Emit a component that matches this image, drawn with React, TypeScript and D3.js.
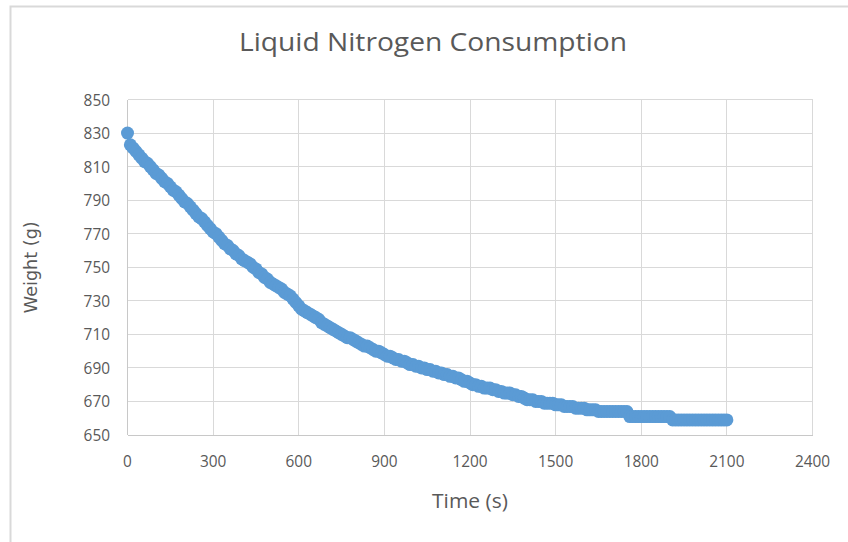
import React, { useEffect, useRef } from 'react';
import * as d3 from 'd3';

// readings, one every 10 s
const timeSec = [
  0, 10, 20, 30, 40, 50, 60, 70, 80, 90,
  100, 110, 120, 130, 140, 150, 160, 170, 180, 190,
  200, 210, 220, 230, 240, 250, 260, 270, 280, 290,
  300, 310, 320, 330, 340, 350, 360, 370, 380, 390,
  400, 410, 420, 430, 440, 450, 460, 470, 480, 490,
  500, 510, 520, 530, 540, 550, 560, 570, 580, 590,
  600, 610, 620, 630, 640, 650, 660, 670, 680, 690,
  700, 710, 720, 730, 740, 750, 760, 770, 780, 790,
  800, 810, 820, 830, 840, 850, 860, 870, 880, 890,
  900, 910, 920, 930, 940, 950, 960, 970, 980, 990,
  1000, 1010, 1020, 1030, 1040, 1050, 1060, 1070, 1080, 1090,
  1100, 1110, 1120, 1130, 1140, 1150, 1160, 1170, 1180, 1190,
  1200, 1210, 1220, 1230, 1240, 1250, 1260, 1270, 1280, 1290,
  1300, 1310, 1320, 1330, 1340, 1350, 1360, 1370, 1380, 1390,
  1400, 1410, 1420, 1430, 1440, 1450, 1460, 1470, 1480, 1490,
  1500, 1510, 1520, 1530, 1540, 1550, 1560, 1570, 1580, 1590,
  1600, 1610, 1620, 1630, 1640, 1650, 1660, 1670, 1680, 1690,
  1700, 1710, 1720, 1730, 1740, 1750, 1760, 1770, 1780, 1790,
  1800, 1810, 1820, 1830, 1840, 1850, 1860, 1870, 1880, 1890,
  1900, 1910, 1920, 1930, 1940, 1950, 1960, 1970, 1980, 1990,
  2000, 2010, 2020, 2030, 2040, 2050, 2060, 2070, 2080, 2090,
  2100
];

const weightG = [
  830, 823, 821, 819, 817, 815, 813, 812, 810, 808,
  806, 805, 803, 801, 800, 798, 796, 795, 793, 791,
  789, 788, 786, 784, 782, 780, 779, 777, 775, 773,
  771, 770, 768, 766, 764, 763, 761, 760, 758, 757,
  755, 754, 753, 752, 750, 749, 747, 746, 744, 743,
  741, 740, 739, 738, 737, 735, 734, 733, 731, 729,
  727, 725, 724, 723, 722, 721, 720, 719, 717, 716,
  715, 714, 713, 712, 711, 710, 709, 708, 708, 707,
  706, 705, 704, 703, 703, 702, 701, 700, 700, 699,
  698, 697, 697, 696, 695, 695, 694, 694, 693, 692,
  692, 691, 691, 690, 690, 689, 689, 688, 688, 687,
  687, 686, 686, 685, 685, 684, 684, 683, 682, 682,
  681, 680, 680, 679, 679, 678, 678, 678, 677, 677,
  676, 676, 675, 675, 675, 674, 674, 673, 673, 672,
  671, 671, 671, 670, 670, 670, 669, 669, 669, 669,
  668, 668, 668, 667, 667, 667, 667, 666, 666, 666,
  666, 665, 665, 665, 665, 664, 664, 664, 664, 664,
  664, 664, 664, 664, 664, 664, 661, 661, 661, 661,
  661, 661, 661, 661, 661, 661, 661, 661, 661, 661,
  661, 659, 659, 659, 659, 659, 659, 659, 659, 659,
  659, 659, 659, 659, 659, 659, 659, 659, 659, 659,
  659
];

const xTicks = [0, 300, 600, 900, 1200, 1500, 1800, 2100, 2400];
const yTicks = [650, 670, 690, 710, 730, 750, 770, 790, 810, 830, 850];

const chartTitle = 'Liquid Nitrogen Consumption';
const xTitle = 'Time (s)';
const yTitle = 'Weight (g)';

const width = 848;
const height = 542;

export default function App() {
  const ref = useRef<SVGSVGElement>(null);

  useEffect(() => {
    const svg = d3.select(ref.current);
    svg.selectAll('*').remove();

    const left = 127.5, right = 812.5, top = 99.5, bottom = 435;
    const textColor = '#595959';
    const gridColor = '#d9d9d9';
    const font = "'Open Sans', sans-serif";

    const x = d3.scaleLinear().domain([0, 2400]).range([left, right]);
    const y = d3.scaleLinear().domain([650, 850]).range([bottom, top]);

    svg.append('rect')
      .attr('width', width).attr('height', height).attr('fill', '#fff');

    // chart area frame (runs off the right/bottom of the picture)
    svg.append('rect')
      .attr('x', 10.5).attr('y', 6.5)
      .attr('width', 860).attr('height', 600)
      .attr('fill', '#fff')
      .attr('stroke', gridColor).attr('stroke-width', 2);

    // gridlines
    const grid = svg.append('g').attr('shape-rendering', 'crispEdges');
    grid.selectAll('line.h').data(yTicks).enter().append('line')
      .attr('x1', left).attr('x2', right)
      .attr('y1', d => y(d)).attr('y2', d => y(d))
      .attr('stroke', gridColor).attr('stroke-width', 1);
    grid.selectAll('line.v').data(xTicks).enter().append('line')
      .attr('y1', top).attr('y2', bottom)
      .attr('x1', d => x(d)).attr('x2', d => x(d))
      .attr('stroke', gridColor).attr('stroke-width', 1);
    // axis lines a touch darker
    grid.append('line')
      .attr('x1', left).attr('x2', right).attr('y1', bottom).attr('y2', bottom)
      .attr('stroke', '#c8c8c8');
    grid.append('line')
      .attr('x1', left).attr('x2', left).attr('y1', top).attr('y2', bottom)
      .attr('stroke', '#c8c8c8');

    // tick labels (narrow, calibri-ish)
    svg.append('g').selectAll('text').data(yTicks).enter().append('text')
      .attr('x', 110).attr('y', d => y(d) + 6)
      .attr('text-anchor', 'end')
      .attr('font-family', font).attr('font-size', 17)
      .attr('fill', textColor)
      .attr('textLength', d => String(d).length * 8.8)
      .attr('lengthAdjust', 'spacingAndGlyphs')
      .text(d => d);
    svg.append('g').selectAll('text').data(xTicks).enter().append('text')
      .attr('x', d => x(d)).attr('y', 467)
      .attr('text-anchor', 'middle')
      .attr('font-family', font).attr('font-size', 17)
      .attr('fill', textColor)
      .attr('textLength', d => String(d).length * 8.8)
      .attr('lengthAdjust', 'spacingAndGlyphs')
      .text(d => d);

    // titles
    svg.append('text')
      .attr('x', 433).attr('y', 51)
      .attr('text-anchor', 'middle')
      .attr('font-family', font).attr('font-size', 25)
      .attr('fill', textColor)
      .attr('textLength', 388).attr('lengthAdjust', 'spacingAndGlyphs')
      .text(chartTitle);
    svg.append('text')
      .attr('x', (left + right) / 2).attr('y', 508)
      .attr('text-anchor', 'middle')
      .attr('font-family', font).attr('font-size', 20.5)
      .attr('fill', textColor)
      .attr('textLength', 76).attr('lengthAdjust', 'spacingAndGlyphs')
      .text(xTitle);
    svg.append('text')
      .attr('transform', `translate(37, ${(top + bottom) / 2}) rotate(-90)`)
      .attr('text-anchor', 'middle')
      .attr('font-family', "'DejaVu Sans', sans-serif").attr('font-size', 17)
      .attr('fill', textColor)
      .attr('textLength', 92).attr('lengthAdjust', 'spacingAndGlyphs')
      .text(yTitle);

    // markers
    const points = timeSec.map((t, i) => ({ t, w: weightG[i] }));
    svg.append('g').selectAll('circle').data(points).enter().append('circle')
      .attr('cx', d => x(d.t))
      .attr('cy', d => y(d.w))
      .attr('r', 6.5)
      .attr('fill', '#5b9bd5');
  }, []);

  return (
    <svg
      ref={ref}
      width={width}
      height={height}
      style={{ position: 'absolute', left: 0, top: 0, display: 'block' }}
    />
  );
}
